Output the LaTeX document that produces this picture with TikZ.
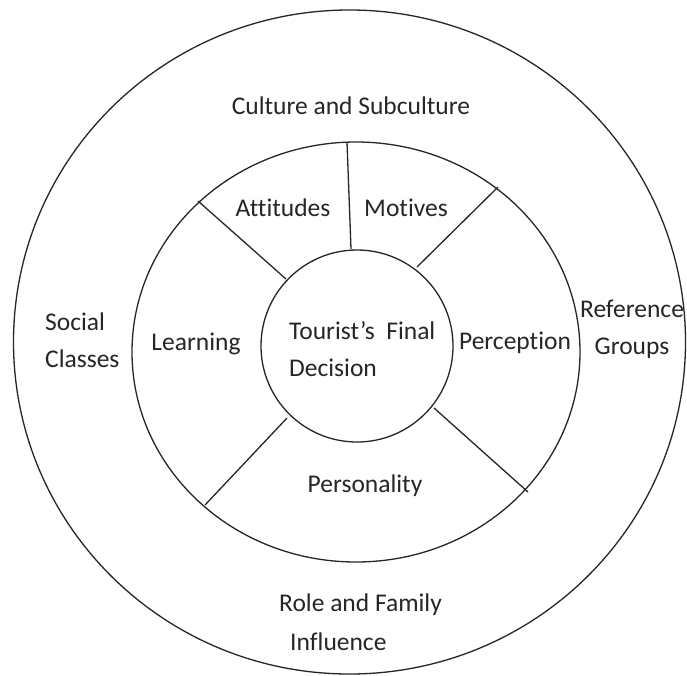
\documentclass[tikz,border=0pt]{standalone}
\usepackage{fontspec}
\setmainfont{Carlito}[Ligatures=NoCommon]
\begin{document}
\begin{tikzpicture}[x=1pt,y=-1pt]
\tikzset{
  ring/.style={draw=black!85, line width=1.3pt},
  divider/.style={draw=black!85, line width=1.3pt},
  lbl/.style={text=black!85, font=\fontsize{25.5}{37}\selectfont, inner sep=0pt},
}
\useasboundingbox (0,0) rectangle (687,675);
\fill[white] (0,0) rectangle (687,675);
% rings
\draw[ring] (349.5,342) ellipse [x radius=336pt, y radius=332pt];
\draw[ring] (356,352) ellipse [x radius=224pt, y radius=210pt];
\draw[ring] (357,346) circle [radius=96pt];
% divider end points
\coordinate (m1) at (347,142);  \coordinate (i1) at (351,249);
\coordinate (m2) at (198,201);  \coordinate (i2) at (286,279);
\coordinate (m3) at (498,187);  \coordinate (i3) at (417,267);
\coordinate (m4) at (205,505);  \coordinate (i4) at (287,418);
\coordinate (m5) at (528,492);  \coordinate (i5) at (434,408);
\draw[divider] (m1) -- (i1);
\draw[divider] (m2) -- (i2);
\draw[divider] (m3) -- (i3);
\draw[divider] (m4) -- (i4);
\draw[divider] (m5) -- (i5);
% labels
\node[lbl] (culture) at (351,106) {Culture and Subculture};
\node[lbl] (attitudes) at (283,208) {Attitudes};
\node[lbl] (motives) at (406,208) {Motives};
\node[lbl, align=left, anchor=west] (social) at (45,340) {Social\\Classes};
\node[lbl] (learning) at (196,344) {Learning};
\node[lbl, align=left, anchor=west] (core) at (289,349) {Tourist’s~~Final\\Decision};
\node[lbl] (perception) at (515,343) {Perception};
\node[lbl, align=center] (reference) at (632,329) {Reference\\Groups};
\node[lbl] (personality) at (365,486) {Personality};
\node[lbl, anchor=west] (role) at (279,605) {Role and Family};
\node[lbl, anchor=west] (influence) at (290,642) {Influence};
\end{tikzpicture}
\end{document}
